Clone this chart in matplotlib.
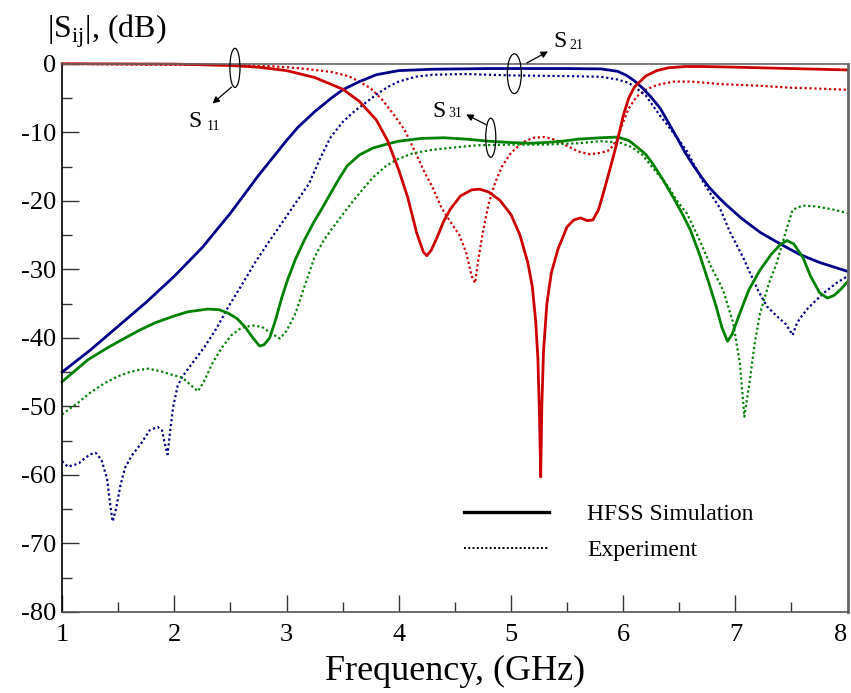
"""
|Sij| vs frequency: HFSS simulation (solid) vs measurement (dotted).
"""
import matplotlib
matplotlib.use("Agg")
import matplotlib.pyplot as plt
from matplotlib.lines import Line2D
from matplotlib.patches import Ellipse
from matplotlib.ticker import MultipleLocator

plt.rcParams["font.family"] = ["Liberation Serif", "DejaVu Serif"]
plt.rcParams["mathtext.fontset"] = "custom"
plt.rcParams["mathtext.rm"] = "Liberation Serif"

RED = "#cc0000"
BLUE = "#000088"
GREEN = "#008000"

# S11, simulation
s11_sim_f = [1.0, 1.5, 2.0, 2.5, 2.75, 3.0, 3.25, 3.5, 3.65, 3.8, 3.9, 4.0, 4.08, 4.16,
             4.22, 4.25, 4.29, 4.34, 4.4, 4.46, 4.55, 4.65, 4.72, 4.8, 4.9, 5.0, 5.08,
             5.15, 5.19, 5.22, 5.24, 5.255, 5.265, 5.275, 5.29, 5.32, 5.36, 5.42, 5.5,
             5.56, 5.62, 5.68, 5.73, 5.78, 5.83, 5.88, 5.94, 6.0, 6.05, 6.1, 6.2, 6.3,
             6.4, 6.55, 6.7, 7.0, 7.5, 8.0]
s11_sim_db = [0.0, -0.02, -0.05, -0.25, -0.5, -1.0, -2.0, -3.7, -5.5, -8.2, -11.2, -15.5,
              -19.5, -24.7, -27.5, -28.0, -27.2, -25.4, -23.0, -21.2, -19.3, -18.4, -18.3,
              -18.7, -19.9, -22.0, -25.0, -29.0, -32.5, -37.5, -43.0, -52.0, -60.3, -50.0,
              -42.0, -35.0, -30.5, -27.0, -23.8, -22.8, -22.5, -22.9, -22.8, -21.3, -18.5,
              -15.5, -11.8, -7.6, -5.0, -3.4, -1.8, -1.0, -0.6, -0.4, -0.4, -0.5, -0.7, -0.9]

# S11, measured
s11_exp_f = [1.0, 1.5, 2.0, 2.5, 2.8, 3.0, 3.2, 3.4, 3.55, 3.65, 3.75, 3.85, 3.95, 4.05,
             4.15, 4.22, 4.3, 4.38, 4.47, 4.54, 4.6, 4.65, 4.68, 4.71, 4.75, 4.8, 4.86,
             4.92, 5.0, 5.1, 5.2, 5.3, 5.4, 5.5, 5.6, 5.7, 5.8, 5.88, 5.95, 6.0, 6.05,
             6.12, 6.2, 6.3, 6.45, 6.6, 6.9, 7.2, 7.5, 7.7, 8.0]
s11_exp_db = [0.0, -0.1, -0.15, -0.2, -0.3, -0.5, -0.8, -1.2, -1.8, -2.6, -3.6, -5.2, -7.3,
              -9.6, -13.0, -15.5, -18.0, -21.0, -23.3, -25.0, -27.5, -31.0, -32.0, -28.5,
              -24.5, -20.5, -17.3, -15.0, -13.0, -11.5, -10.8, -10.7, -11.1, -12.0, -12.8,
              -13.2, -13.0, -12.6, -10.9, -8.5, -6.5, -4.8, -3.8, -3.1, -2.6, -2.6, -3.0,
              -3.2, -3.5, -3.6, -3.8]

# S21, simulation
s21_sim_f = [1.0, 1.25, 1.5, 1.75, 2.0, 2.25, 2.5, 2.75, 3.0, 3.1, 3.25, 3.4, 3.5, 3.65,
             3.8, 4.0, 4.3, 4.8, 5.5, 5.8, 5.95, 6.03, 6.1, 6.17, 6.25, 6.33, 6.4, 6.48,
             6.55, 6.62, 6.7, 6.77, 6.85, 6.92, 7.05, 7.22, 7.4, 7.57, 7.75, 8.0]
s21_sim_db = [-45.0, -41.8, -38.3, -34.8, -31.0, -26.8, -21.8, -16.3, -11.2, -9.3, -7.0,
              -5.0, -3.8, -2.6, -1.6, -1.0, -0.8, -0.7, -0.7, -0.75, -1.1, -1.7, -2.5,
              -3.5, -4.9, -6.5, -8.5, -10.8, -12.9, -14.7, -16.6, -18.1, -19.5, -20.6,
              -22.5, -24.6, -26.3, -27.8, -29.0, -30.3]

# S21, measured
s21_exp_f = [1.0, 1.05, 1.1, 1.15, 1.2, 1.25, 1.3, 1.35, 1.4, 1.43, 1.45, 1.48, 1.52, 1.56,
             1.62, 1.7, 1.78, 1.85, 1.89, 1.92, 1.94, 1.96, 1.99, 2.03, 2.07, 2.16, 2.27,
             2.38, 2.48, 2.6, 2.72, 2.85, 2.96, 3.09, 3.2, 3.3, 3.39, 3.5, 3.6, 3.68, 3.8,
             3.9, 4.0, 4.15, 4.3, 4.6, 5.0, 5.5, 5.8, 5.95, 6.05, 6.12, 6.2, 6.26, 6.33,
             6.41, 6.49, 6.57, 6.64, 6.71, 6.78, 6.86, 6.95, 7.01, 7.07, 7.13, 7.2, 7.28,
             7.38, 7.45, 7.48, 7.51, 7.54, 7.57, 7.64, 7.72, 7.8, 7.9, 8.0]
s21_exp_db = [-58.0, -58.8, -58.6, -58.3, -57.6, -57.0, -56.8, -57.8, -60.5, -64.5, -66.8,
              -65.0, -61.5, -59.0, -57.2, -55.5, -53.5, -53.0, -53.5, -55.8, -57.0, -54.0,
              -50.0, -47.0, -45.7, -43.7, -41.3, -38.5, -35.5, -32.3, -29.0, -25.8, -23.2,
              -20.1, -17.5, -13.8, -10.8, -8.5, -7.0, -6.0, -4.5, -3.4, -2.6, -1.9, -1.6,
              -1.5, -1.7, -1.8, -1.9, -2.3, -2.8, -3.6, -4.6, -6.0, -7.6, -9.3, -11.0,
              -12.8, -15.0, -17.2, -19.0, -21.0, -24.5, -26.4, -28.3, -30.5, -33.0, -35.4,
              -37.0, -38.0, -38.8, -39.6, -38.2, -37.3, -35.8, -34.5, -33.3, -32.0, -31.0]

# S31, simulation
s31_sim_f = [1.0, 1.1, 1.23, 1.4, 1.53, 1.7, 1.83, 2.0, 2.12, 2.3, 2.4, 2.48, 2.56, 2.63,
             2.7, 2.76, 2.8, 2.85, 2.9, 2.96, 3.01, 3.08, 3.16, 3.24, 3.32, 3.4, 3.46,
             3.54, 3.65, 3.77, 3.9, 4.0, 4.2, 4.4, 4.6, 4.8, 5.0, 5.17, 5.3, 5.46, 5.6,
             5.8, 5.95, 6.05, 6.12, 6.2, 6.26, 6.35, 6.45, 6.53, 6.6, 6.68, 6.76, 6.83,
             6.88, 6.93, 6.97, 7.04, 7.12, 7.22, 7.32, 7.4, 7.46, 7.52, 7.6, 7.67, 7.75,
             7.82, 7.88, 7.94, 8.0]
s31_sim_db = [-46.4, -45.0, -43.2, -41.5, -40.3, -38.8, -37.8, -36.8, -36.2, -35.8, -35.9,
              -36.4, -37.2, -38.4, -40.0, -41.2, -41.0, -40.0, -37.5, -34.0, -31.5, -28.5,
              -25.7, -23.2, -21.0, -18.7, -17.0, -14.9, -13.3, -12.3, -11.7, -11.3, -10.9,
              -10.8, -11.0, -11.3, -11.5, -11.6, -11.5, -11.3, -11.0, -10.8, -10.7, -11.2,
              -12.1, -13.2, -14.5, -16.8, -19.6, -22.0, -24.3, -27.8, -31.8, -35.5, -38.5,
              -40.5, -39.5, -36.4, -33.0, -30.1, -27.8, -26.4, -25.8, -26.3, -28.2, -31.0,
              -33.4, -34.2, -33.8, -32.9, -31.8]

# S31, measured
s31_exp_f = [1.0, 1.07, 1.14, 1.25, 1.38, 1.5, 1.6, 1.68, 1.77, 1.88, 1.98, 2.07, 2.14,
             2.21, 2.26, 2.34, 2.42, 2.51, 2.6, 2.7, 2.78, 2.86, 2.94, 3.0, 3.08, 3.16,
             3.25, 3.33, 3.4, 3.5, 3.58, 3.68, 3.77, 3.88, 3.98, 4.12, 4.28, 4.5, 4.7, 5.0,
             5.3, 5.6, 5.8, 5.97, 6.08, 6.17, 6.28, 6.41, 6.47, 6.57, 6.68, 6.78, 6.89,
             6.98, 7.04, 7.08, 7.13, 7.17, 7.22, 7.3, 7.37, 7.44, 7.51, 7.6, 7.7, 7.78,
             7.88, 7.95, 8.0]
s31_exp_db = [-51.2, -50.3, -49.5, -48.0, -46.6, -45.6, -45.0, -44.7, -44.5, -44.9, -45.4,
              -45.8, -46.8, -47.8, -46.5, -43.7, -41.5, -39.6, -38.5, -38.2, -38.4, -39.3,
              -40.1, -39.0, -36.4, -32.5, -28.2, -25.8, -24.2, -22.0, -20.3, -18.3, -16.6,
              -15.0, -14.0, -13.1, -12.6, -12.2, -11.9, -11.8, -11.8, -11.6, -11.3, -11.5,
              -12.2, -13.3, -15.5, -18.1, -19.8, -21.9, -25.7, -29.5, -33.0, -37.8, -43.7,
              -51.5, -46.1, -41.0, -36.4, -32.0, -29.0, -25.0, -21.3, -20.7, -20.8, -21.0,
              -21.3, -21.6, -21.8]

legend_labels = ["HFSS Simulation", "Experiment"]


def dotted(ax, f, db, color):
    ax.plot(f, db, color=color, lw=1.6, linestyle=(0, (1.0, 1.2)), clip_on=False)


def solid(ax, f, db, color):
    ax.plot(f, db, color=color, lw=2.0, clip_on=False)


def mark_curve(ax, centre, size, arrow_from, arrow_to, s_pos, sub_pos, sub):
    ax.add_patch(Ellipse(centre, size[0], size[1], fill=False, ec="black",
                         lw=0.9, clip_on=False, zorder=5))
    ax.annotate("", xy=arrow_to, xytext=arrow_from, annotation_clip=False,
                arrowprops=dict(arrowstyle="-|>", color="black", lw=0.9,
                                mutation_scale=10, shrinkA=0, shrinkB=0))
    ax.text(*s_pos, "S", fontsize=17, ha="center", va="center")
    ax.text(*sub_pos, sub, fontsize=10, ha="center", va="center")


fig = plt.figure(figsize=(8.51, 6.93), dpi=100)
ax = fig.add_axes([0.073, 0.117, 0.923, 0.791])

dotted(ax, s11_exp_f, s11_exp_db, RED)
dotted(ax, s21_exp_f, s21_exp_db, BLUE)
dotted(ax, s31_exp_f, s31_exp_db, GREEN)
solid(ax, s21_sim_f, s21_sim_db, BLUE)
solid(ax, s31_sim_f, s31_sim_db, GREEN)
solid(ax, s11_sim_f, s11_sim_db, RED)

ax.set_xlim(1, 8)
ax.set_ylim(-80, 0)
ax.xaxis.set_major_locator(MultipleLocator(1))
ax.xaxis.set_minor_locator(MultipleLocator(0.5))
ax.yaxis.set_major_locator(MultipleLocator(10))
ax.yaxis.set_minor_locator(MultipleLocator(5))
ax.tick_params(which="both", direction="in", labelsize=19, color="#333333")
ax.tick_params(which="major", length=12, width=1.0)
ax.tick_params(which="minor", length=7, width=1.0)
ax.tick_params(axis="x", pad=9)
ax.tick_params(axis="y", pad=4)
ax.set_yticks(range(-80, 1, 10))
ax.set_yticklabels([str(v) for v in range(-80, 1, 10)])
ax.set_xticks(range(1, 9))
ax.set_xticklabels([str(v) for v in range(1, 8)] + [""])
# last tick label sits on the right edge, nudged inward so it is not clipped
ax.text(8.0, -0.0215, "8", transform=ax.get_xaxis_transform(), fontsize=19,
        ha="right", va="top")

ax.spines["left"].set_color("black")
ax.spines["bottom"].set_color("#555555")
ax.spines["top"].set_color("#666666")
ax.spines["right"].set_color("#666666")
ax.spines["right"].set_linewidth(2.0)
for side in ("left", "bottom", "top"):
    ax.spines[side].set_linewidth(1.2)

ax.set_xlabel("Frequency, (GHz)", fontsize=26, labelpad=6)
fig.text(0.055, 0.955, r"|$\mathrm{S}_{\mathrm{ij}}$|, (dB)", fontsize=23,
         ha="left", va="center")

mark_curve(ax, (2.54, -0.6), (0.09, 5.7), (2.51, -3.4), (2.34, -5.8),
           (2.18, -8.5), (2.35, -9.2), "11")
mark_curve(ax, (5.03, -1.45), (0.125, 5.8), (5.14, 0.1), (5.33, 1.8),
           (5.44, 3.2), (5.58, 2.6), "21")
mark_curve(ax, (4.82, -10.8), (0.09, 5.7), (4.78, -8.9), (4.60, -7.4),
           (4.36, -6.9), (4.50, -7.3), "31")

handles = [Line2D([], [], color="black", lw=2.4),
           Line2D([], [], color="black", lw=1.4, linestyle=(0, (1.0, 1.2)))]
ax.legend(handles, legend_labels, loc="upper left", bbox_to_anchor=(0.512, 0.198),
          frameon=False, fontsize=17, handlelength=3.6, handletextpad=1.6,
          labelspacing=0.62, borderpad=0, borderaxespad=0)

fig.savefig("out.png", dpi=100)
plt.close(fig)
